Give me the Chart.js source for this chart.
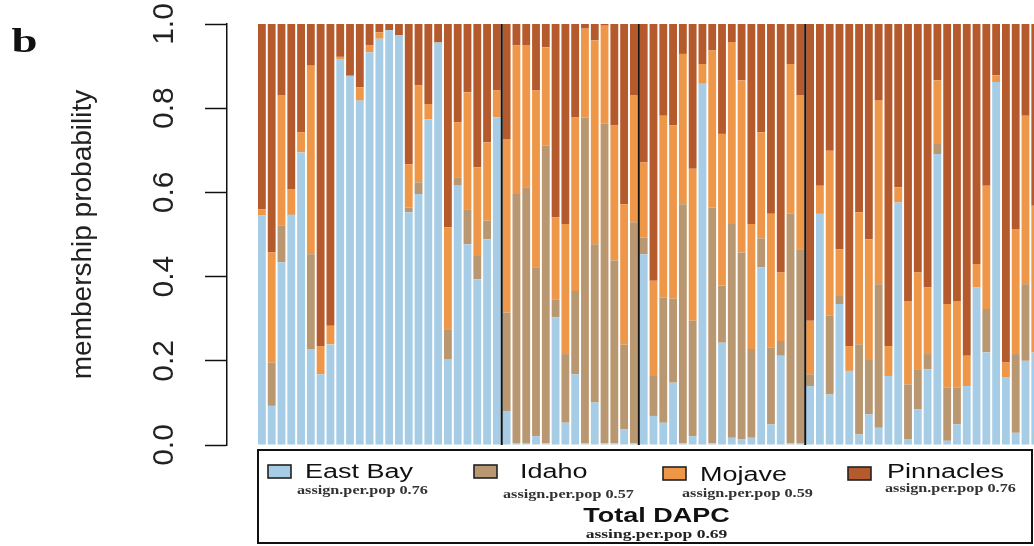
<!DOCTYPE html>
<html>
<head>
<meta charset="utf-8">
<title>Total DAPC membership probability</title>
<script src="https://cdn.jsdelivr.net/npm/chart.js@4.4.1/dist/chart.umd.min.js"></script>
<style>
  html, body { margin: 0; padding: 0; background: #ffffff; overflow: hidden; }
  #wrap { position: relative; width: 1034px; height: 546px; }
  canvas { display: block; }
</style>
</head>
<body>
<div id="wrap"><canvas id="dapc" width="1034" height="546"></canvas></div>
<script>
// Populations, in the order the individuals are sorted along the x axis
const populations = ['East Bay', 'Idaho', 'Mojave', 'Pinnacles'];
const groupSizes = [25, 14, 17, 24];
const assignPerPop = [0.76, 0.57, 0.59, 0.76];
const totalAssign = 0.69;
const barColors = ['#a6cde5', '#b99771', '#ee9749', '#b45a2c'];
const yTickValues = [0, 0.2, 0.4, 0.6, 0.8, 1.0];

// Membership probability of each individual to each cluster
const eastBay = [
  0.545, 0.093, 0.434, 0.545, 0.695, 0.228, 0.168, 0.239, 0.917, 0.877, 0.818, 0.933, 0.965, 0.985, 0.973, 0.553, 0.596, 0.774, 0.956, 0.204, 0.616, 0.477, 0.394, 0.489, 0.778,
  0.081, 0.005, 0.005, 0.021, 0.004, 0.303, 0.053, 0.168, 0.004, 0.101, 0.004, 0.004, 0.037, 0.004,
  0.453, 0.069, 0.053, 0.148, 0.004, 0.021, 0.858, 0.004, 0.243, 0.017, 0.013, 0.017, 0.422, 0.049, 0.212, 0.004, 0.005,
  0.140, 0.549, 0.120, 0.335, 0.176, 0.025, 0.073, 0.041, 0.164, 0.576, 0.013, 0.085, 0.180, 0.691, 0.010, 0.049, 0.140, 0.374, 0.220, 0.862, 0.160, 0.029, 0.200, 0.220
];
const idaho = [
  0, 0.103, 0.087, 0.003, 0, 0.225, 0, 0, 0, 0, 0, 0, 0, 0, 0, 0.011, 0.028, 0, 0, 0.071, 0.020, 0.083, 0.055, 0.044, 0,
  0.234, 0.591, 0.607, 0.401, 0.707, 0.043, 0.163, 0.198, 0.774, 0.376, 0.759, 0.434, 0.202, 0.525,
  0.040, 0.095, 0.297, 0.200, 0.568, 0.274, 0, 0.560, 0.135, 0.508, 0.444, 0.211, 0.069, 0.182, 0.035, 0.545, 0.460,
  0.028, 0, 0.187, 0.019, 0, 0.214, 0.131, 0.341, 0, 0, 0.131, 0.095, 0.036, 0.024, 0.126, 0.087, 0, 0, 0.103, 0, 0, 0.187, 0.182, 0
];
const mojave = [
  0.015, 0.261, 0.309, 0.060, 0.048, 0.448, 0.067, 0.044, 0.005, 0, 0.032, 0.017, 0.015, 0, 0, 0.103, 0.230, 0.036, 0, 0.242, 0.131, 0.278, 0.211, 0.186, 0.064,
  0.412, 0.353, 0.338, 0.420, 0.234, 0.195, 0.309, 0.412, 0.211, 0.484, 0.233, 0.321, 0.333, 0.301,
  0.178, 0.226, 0.432, 0.411, 0.357, 0.361, 0.047, 0.373, 0.361, 0.432, 0.409, 0.297, 0.252, 0.318, 0.163, 0.356, 0.365,
  0.127, 0.067, 0.392, 0.111, 0.059, 0.314, 0.285, 0.436, 0.071, 0.036, 0.198, 0.230, 0.158, 0.151, 0.199, 0.206, 0.072, 0.056, 0.293, 0.016, 0.036, 0.297, 0.400, 0.348
];
const pinnacles = [
  0.440, 0.543, 0.170, 0.392, 0.257, 0.099, 0.765, 0.717, 0.078, 0.123, 0.150, 0.050, 0.020, 0.015, 0.027, 0.333, 0.146, 0.190, 0.044, 0.483, 0.233, 0.162, 0.340, 0.281, 0.158,
  0.273, 0.051, 0.050, 0.158, 0.055, 0.459, 0.475, 0.222, 0.011, 0.039, 0.004, 0.241, 0.428, 0.170,
  0.329, 0.610, 0.218, 0.241, 0.071, 0.344, 0.095, 0.063, 0.261, 0.043, 0.134, 0.475, 0.257, 0.451, 0.590, 0.095, 0.170,
  0.705, 0.384, 0.301, 0.535, 0.765, 0.447, 0.511, 0.182, 0.765, 0.388, 0.658, 0.590, 0.626, 0.134, 0.665, 0.658, 0.788, 0.570, 0.384, 0.122, 0.804, 0.487, 0.218, 0.432
];

const seriesValues = [eastBay, idaho, mojave, pinnacles];

Chart.defaults.font.family = '"Liberation Sans", Arial, Helvetica, sans-serif';
Chart.defaults.color = '#222';

// Individuals are placed at integer positions on a linear axis so the
// y axis can sit slightly detached from the first bar, as in R barplots.
const datasets = populations.map((name, k) => ({
  label: name,
  data: seriesValues[k].map((v, i) => ({ x: i, y: v })),
  backgroundColor: barColors[k],
  borderWidth: 0,
  barPercentage: 0.8,
  categoryPercentage: 1.0
}));

// draw text squeezed/stretched horizontally
function stretchedText(ctx, text, x, y, font, sx, align, color) {
  ctx.save();
  ctx.font = font;
  ctx.fillStyle = color;
  ctx.textBaseline = 'alphabetic';
  const w = ctx.measureText(text).width * sx;
  let left = x;
  if (align === 'center') left = x - w / 2;
  ctx.translate(left, y);
  ctx.scale(sx, 1);
  ctx.textAlign = 'left';
  ctx.fillText(text, 0, 0);
  ctx.restore();
}

// black lines separating the populations
const separators = {
  id: 'separators',
  afterDatasetsDraw(chart) {
    const { ctx, chartArea, scales: { x } } = chart;
    ctx.save();
    ctx.strokeStyle = '#111';
    ctx.lineWidth = 2;
    let cum = 0;
    for (let g = 0; g < groupSizes.length - 1; g++) {
      cum += groupSizes[g];
      const px = x.getPixelForValue(cum - 0.5);
      ctx.beginPath();
      ctx.moveTo(px, chartArea.top);
      ctx.lineTo(px, chartArea.bottom);
      ctx.stroke();
    }
    ctx.restore();
  }
};

// boxed legend under the plot with per-population assignment rates
const dapcLegend = {
  id: 'dapcLegend',
  afterDraw(chart) {
    const { ctx } = chart;
    const SX = 1.35;
    ctx.save();
    ctx.strokeStyle = '#111';
    ctx.lineWidth = 2;
    ctx.strokeRect(258, 450, 774, 93);

    const items = [
      { sw: [268, 465], label: [305, 478], sub: [297, 494] },
      { sw: [474, 465], label: [520, 478], sub: [503, 497.5] },
      { sw: [663, 467], label: [700, 480.5], sub: [682, 496.5] },
      { sw: [848, 467], label: [887, 478], sub: [885, 491.5] }
    ];
    chart.data.datasets.forEach((ds, k) => {
      const it = items[k];
      ctx.fillStyle = ds.backgroundColor;
      ctx.fillRect(it.sw[0], it.sw[1], 23, 13);
      ctx.lineWidth = 1.6;
      ctx.strokeStyle = '#222';
      ctx.strokeRect(it.sw[0], it.sw[1], 23, 13);
      stretchedText(ctx, ds.label, it.label[0], it.label[1],
        '20px "Liberation Sans", Arial, sans-serif', SX, 'left', '#111');
      stretchedText(ctx, 'assign.per.pop ' + assignPerPop[k].toFixed(2), it.sub[0], it.sub[1],
        'bold 12px "Liberation Serif", "Times New Roman", serif', SX, 'left', '#333');
    });

    stretchedText(ctx, 'Total DAPC', 656.5, 521.5,
      'bold 20px "Liberation Sans", Arial, sans-serif', SX, 'center', '#111');
    stretchedText(ctx, 'assing.per.pop ' + totalAssign.toFixed(2), 656.5, 538,
      'bold 13px "Liberation Serif", "Times New Roman", serif', SX, 'center', '#222');

    // panel letter
    stretchedText(ctx, 'b', 11.5, 52,
      'bold 34px "Liberation Serif", "Times New Roman", serif', 1.38, 'left', '#111');
    ctx.restore();
  }
};

new Chart(document.getElementById('dapc'), {
  type: 'bar',
  data: { datasets },
  options: {
    responsive: false,
    animation: false,
    devicePixelRatio: 1,
    layout: { padding: { left: 0, right: 0, top: 24, bottom: 101 } },
    plugins: {
      legend: { display: false },
      tooltip: { enabled: false },
      title: { display: false }
    },
    scales: {
      x: {
        type: 'linear',
        stacked: true,
        display: false,
        offset: false,
        grid: { offset: false },
        bounds: 'data',
        min: -3.565,
        max: 78.87
      },
      y: {
        stacked: true,
        min: 0,
        max: 1,
        position: 'left',
        afterFit(scale) {
          scale.width = 227;
          scale.paddingTop = 0;
          scale.paddingBottom = 0;
        },
        afterBuildTicks(scale) { scale.ticks = yTickValues.map(v => ({ value: v })); },
        border: { display: true, color: '#111', width: 1.5 },
        grid: {
          display: true,
          drawOnChartArea: false,
          drawTicks: true,
          tickLength: 22,
          tickColor: '#111',
          tickWidth: 1.5
        },
        ticks: {
          minRotation: 90,
          maxRotation: 90,
          crossAlign: 'center',
          padding: 19,
          color: '#222',
          font: { size: 30 },
          callback: (v) => Number(v).toFixed(1)
        },
        title: {
          display: true,
          text: 'membership probability',
          color: '#222',
          font: { size: 28 },
          padding: { top: 66, bottom: 0 }
        }
      }
    }
  },
  plugins: [separators, dapcLegend]
});
</script>
</body>
</html>
